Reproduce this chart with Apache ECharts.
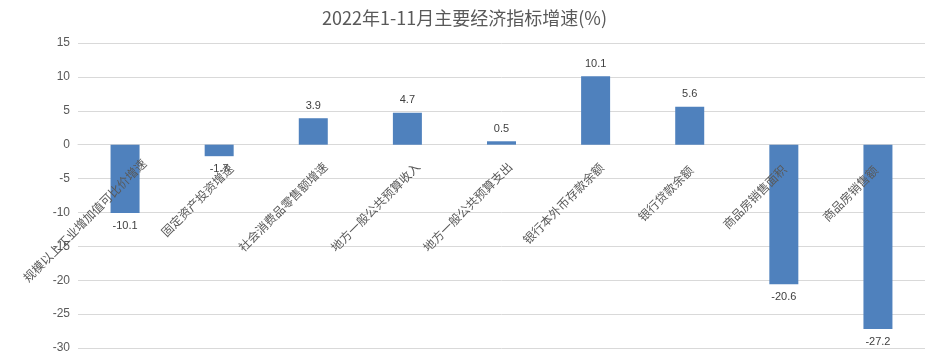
<!DOCTYPE html>
<html>
<head>
<meta charset="utf-8">
<script src="https://cdn.jsdelivr.net/npm/echarts@6/dist/echarts.min.js"></script>
<style>
html,body{margin:0;padding:0;background:#fff;}
#chart{width:929px;height:359px;}
</style>
</head>
<body>
<div id="chart"></div>
<script>
const titleText = '2022年1-11月主要经济指标增速(%)';
const categories = ['规模以上工业增加值可比价增速','固定资产投资增速','社会消费品零售额增速','地方一般公共预算收入','地方一般公共预算支出','银行本外币存款余额','银行贷款余额','商品房销售面积','商品房销售额'];
const values = [-10.1, -1.7, 3.9, 4.7, 0.5, 10.1, 5.6, -20.6, -27.2];
const yMin = -30, yMax = 15, yStep = 5;

const cjk = '"Noto Sans CJK SC", "Microsoft YaHei", sans-serif';
const numFont = '"Liberation Sans", "Noto Sans", sans-serif';

// label shift to mimic Excel's rotated label placement
const shiftMax = 20;
function labelPad(name){
  const L = name.length;
  const end = 4 + 1.8 * (L - 5);
  const h = Math.max(0, shiftMax - end);
  return [0, 0.707 * h, 1.414 * h, 0];
}

const chart = echarts.init(document.getElementById('chart'));
chart.setOption({
  backgroundColor: '#fff',
  animation: false,
  title: {
    text: titleText, left: 'center', top: 4,
    textStyle: {fontFamily: cjk, fontSize: 18, fontWeight: 'normal', color: '#595959'}
  },
  grid: [
    {left: 78, right: 4, top: 43, bottom: 11},
    {left: 78 + shiftMax, width: 847, top: 43, height: 102}
  ],
  xAxis: [
    {
      type: 'category', gridIndex: 0, data: categories,
      axisLine: {onZero: true, lineStyle: {color: '#d9d9d9', width: 1}},
      axisTick: {show: false},
      axisLabel: {show: false}
    },
    {
      type: 'category', gridIndex: 1, z: 10, position: 'bottom',
      data: categories.map(c => ({value: c, textStyle: {padding: labelPad(c)}})),
      axisLine: {show: false, onZero: false},
      axisTick: {show: false},
      axisLabel: {rotate: 45, interval: 0, margin: 16, fontSize: 12, color: '#595959', fontFamily: cjk}
    }
  ],
  yAxis: [
    {
      type: 'value', gridIndex: 0, min: yMin, max: yMax, interval: yStep,
      axisLine: {show: false}, axisTick: {show: false},
      axisLabel: {margin: 8, fontSize: 12, color: '#595959', fontFamily: numFont},
      splitLine: {lineStyle: {color: '#d9d9d9', width: 1}}
    },
    {
      type: 'value', gridIndex: 1, min: 0, max: yMax, show: false
    }
  ],
  series: [{
    type: 'bar', xAxisIndex: 0, yAxisIndex: 0, barWidth: 29,
    itemStyle: {color: '#4f81bd'},
    data: values.map(v => ({value: v, label: {position: v < 0 ? 'bottom' : 'top'}})),
    label: {show: true, distance: 7, fontSize: 11, color: '#404040', fontFamily: numFont}
  }]
});
</script>
</body>
</html>
